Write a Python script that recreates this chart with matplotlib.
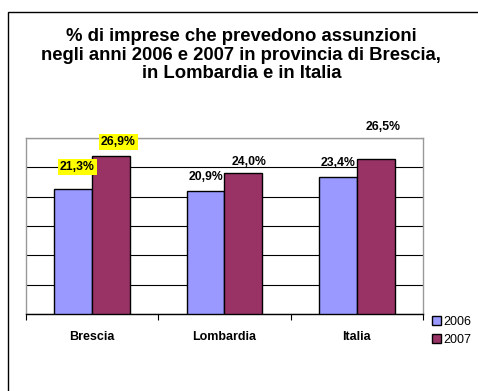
import numpy as np
import matplotlib.pyplot as plt
from matplotlib.patches import Rectangle

plt.rcParams['font.family'] = ['Liberation Sans', 'DejaVu Sans']

regions = ['Brescia', 'Lombardia', 'Italia']
years = ['2006', '2007']
pct_2006 = [21.3, 20.9, 23.4]
pct_2007 = [26.9, 24.0, 26.5]
lbl_2006 = ['21,3%', '20,9%', '23,4%']
lbl_2007 = ['26,9%', '24,0%', '26,5%']

# label offsets in points (dx, dy above bar top), as placed in the original
off_2006 = [(3, 16), (0, 10), (0, 10)]
off_2007 = [(5, 10), (4, 8), (5, 22.5)]
highlight_2006 = [True, False, False]
highlight_2007 = [True, False, False]

col_2006 = '#9999FF'
col_2007 = '#993366'

fig = plt.figure(figsize=(4.78, 3.91), dpi=100)
fig.patches.append(Rectangle((8 / 478, -0.1), 1.2, 1.1 - 12 / 391, transform=fig.transFigure,
                             fill=False, edgecolor='black', linewidth=1.0))

fig.text(0.505, 1 - 55 / 391,
         '% di imprese che prevedono assunzioni\nnegli anni 2006 e 2007 in provincia di Brescia,\nin Lombardia e in Italia',
         ha='center', va='center', fontsize=13.3, fontweight='bold', linespacing=1.12)

ax = fig.add_axes([26 / 478, 1 - 314 / 391, (423 - 26) / 478, (314 - 138) / 391])
x = np.arange(len(regions))
w = 0.287
b1 = ax.bar(x - w / 2, pct_2006, w, color=col_2006, edgecolor='black', linewidth=1.0, label=years[0], zorder=3)
b2 = ax.bar(x + w / 2, pct_2007, w, color=col_2007, edgecolor='black', linewidth=1.0, label=years[1], zorder=3)

def put_labels(bars, labels, offs, hl):
    for bar, lab, (dx, dy), h in zip(bars, labels, offs, hl):
        t = ax.annotate(lab, (bar.get_x() + bar.get_width() / 2, bar.get_height()),
                        xytext=(dx, dy), textcoords='offset points',
                        ha='center', va='center', fontsize=8.8, fontweight='bold',
                        annotation_clip=False, zorder=5)
        if h:
            t.set_bbox(dict(facecolor='#FFFF00', edgecolor='none', pad=1.5))

put_labels(b1, lbl_2006, off_2006, highlight_2006)
put_labels(b2, lbl_2007, off_2007, highlight_2007)

ax.set_ylim(0, 30)
ax.set_xlim(-0.5, 2.5)
ax.set_yticks(np.arange(0, 31, 5))
ax.yaxis.grid(True, color='black', linewidth=0.8, zorder=0)
ax.tick_params(axis='y', length=0, labelleft=False)
ax.set_xticks(x)
ax.set_xticklabels(regions, fontsize=9, fontweight='bold')
ax.tick_params(axis='x', which='major', length=0, pad=12)
ax.set_xticks([-0.5, 0.5, 1.5, 2.5], minor=True)
ax.tick_params(axis='x', which='minor', length=4, width=0.8, direction='out')
for s in ['top', 'right', 'left']:
    ax.spines[s].set_color('#999999')
    ax.spines[s].set_linewidth(1.0)
ax.spines['bottom'].set_color('black')
ax.spines['bottom'].set_linewidth(1.0)

fig.legend(handles=[b1, b2], labels=years, loc='upper left', bbox_to_anchor=(432 / 478, 1 - 316 / 391),
           frameon=False, fontsize=9, handlelength=0.7, handleheight=0.7, handletextpad=0.2,
           labelspacing=0.45, borderaxespad=0, borderpad=0)

fig.savefig('out.png', dpi=100)
